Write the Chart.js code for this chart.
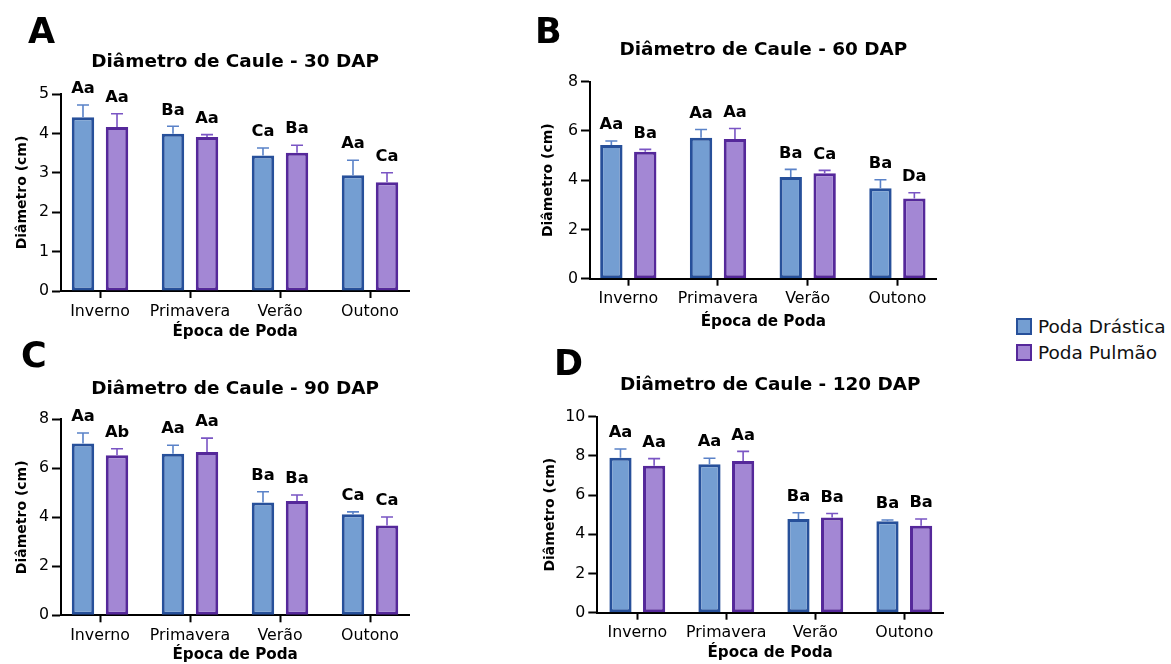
<!DOCTYPE html>
<html><head><meta charset="utf-8">
<script src="https://cdn.jsdelivr.net/npm/chart.js@4.4.1/dist/chart.umd.min.js"></script>
<style>
html,body{margin:0;padding:0;background:#fff;}
body{width:1171px;height:664px;position:relative;overflow:hidden;font-family:"DejaVu Sans",sans-serif;}
.wrap{position:absolute;}
.wrap canvas{display:block;}
.plabel{position:absolute;font-weight:bold;font-size:35px;line-height:34px;color:#000;}
#legend{position:absolute;left:1016px;top:313px;}
.li{display:flex;align-items:center;height:26px;font-size:18.5px;color:#111;white-space:nowrap;}
.sw{width:12px;height:13px;border:2px solid;margin-right:6px;box-sizing:content-box;}
</style></head><body>
<script>
// ---------- DATA ----------
const categories = ['Inverno', 'Primavera', 'Verão', 'Outono'];
const seriesNames = ['Poda Drástica', 'Poda Pulmão'];

// 30 DAP
const drastica30 = [4.41, 3.99, 3.44, 2.94];
const drasticaErr30 = [0.31, 0.19, 0.19, 0.38];
const pulmao30 = [4.16, 3.91, 3.51, 2.76];
const pulmaoErr30 = [0.34, 0.06, 0.19, 0.24];
const drasticaLetters30 = ['Aa', 'Ba', 'Ca', 'Aa'];
const pulmaoLetters30 = ['Aa', 'Aa', 'Ba', 'Ca'];

// 60 DAP
const drastica60 = [5.43, 5.72, 4.13, 3.67];
const drasticaErr60 = [0.16, 0.34, 0.31, 0.35];
const pulmao60 = [5.16, 5.67, 4.28, 3.26];
const pulmaoErr60 = [0.09, 0.43, 0.12, 0.23];
const drasticaLetters60 = ['Aa', 'Aa', 'Ba', 'Ba'];
const pulmaoLetters60 = ['Ba', 'Aa', 'Ca', 'Da'];

// 90 DAP
const drastica90 = [7.01, 6.59, 4.60, 4.12];
const drasticaErr90 = [0.43, 0.35, 0.44, 0.10];
const pulmao90 = [6.53, 6.67, 4.67, 3.67];
const pulmaoErr90 = [0.27, 0.56, 0.24, 0.34];
const drasticaLetters90 = ['Aa', 'Aa', 'Ba', 'Ca'];
const pulmaoLetters90 = ['Ab', 'Aa', 'Ba', 'Ca'];

// 120 DAP
const drastica120 = [7.91, 7.57, 4.78, 4.66];
const drasticaErr120 = [0.44, 0.31, 0.32, 0.07];
const pulmao120 = [7.50, 7.74, 4.86, 4.44];
const pulmaoErr120 = [0.36, 0.49, 0.20, 0.34];
const drasticaLetters120 = ['Aa', 'Aa', 'Ba', 'Ba'];
const pulmaoLetters120 = ['Aa', 'Aa', 'Ba', 'Ba'];

const yMaxA = 5, yStepA = 1;
const yMaxB = 8, yStepB = 2;
const yMaxC = 8, yStepC = 2;
const yMaxD = 10, yStepD = 2;

const panelLetters = ['A', 'B', 'C', 'D'];
const titles = ['Diâmetro de Caule - 30 DAP', 'Diâmetro de Caule - 60 DAP', 'Diâmetro de Caule - 90 DAP', 'Diâmetro de Caule - 120 DAP'];
const yTitle = 'Diâmetro (cm)';
const xTitle = 'Época de Poda';

// ---------- STYLE / LAYOUT ----------
const FONT = '"DejaVu Sans", "Liberation Sans", sans-serif';
const colDr = {fill: '#749ed2', border: '#27509a', err: '#5a82c8'};
const colPu = {fill: '#a387d4', border: '#55289a', err: '#7a55c4'};
const TITLE_SIZE = 18.4, TICK_SIZE = 15.8, YT_SIZE = 14, XT_SIZE = 15.2, LET_SIZE = 16.3;

const layouts = [
  {box:{x:0, y:0, w:425, h:345}, area:{l:61, r:409.3, t:94, b:291}, c0:100, sp:90, titleY:62, yTitleX:22, xTitleY:332, letter:{x:28, y:14}},
  {box:{x:520, y:0, w:430, h:340}, area:{l:590, r:936.7, t:81.7, b:278.7}, c0:628.3, sp:89.7, titleY:50, yTitleX:548, xTitleY:321.7, letter:{x:535, y:14}},
  {box:{x:0, y:345, w:425, h:319}, area:{l:61, r:409.3, t:419.3, b:615.3}, c0:100, sp:90, titleY:389, yTitleX:22.5, xTitleY:655, letter:{x:21, y:338}},
  {box:{x:520, y:345, w:430, h:319}, area:{l:597.3, r:943, t:416.7, b:612.7}, c0:637.3, sp:89, titleY:385, yTitleX:550, xTitleY:653, letter:{x:554, y:346}}
];

const panelData = [
  {dr:drastica30, drE:drasticaErr30, drL:drasticaLetters30, pu:pulmao30, puE:pulmaoErr30, puL:pulmaoLetters30, yMax:yMaxA, yStep:yStepA},
  {dr:drastica60, drE:drasticaErr60, drL:drasticaLetters60, pu:pulmao60, puE:pulmaoErr60, puL:pulmaoLetters60, yMax:yMaxB, yStep:yStepB},
  {dr:drastica90, drE:drasticaErr90, drL:drasticaLetters90, pu:pulmao90, puE:pulmaoErr90, puL:pulmaoLetters90, yMax:yMaxC, yStep:yStepC},
  {dr:drastica120, drE:drasticaErr120, drL:drasticaLetters120, pu:pulmao120, puE:pulmaoErr120, puL:pulmaoLetters120, yMax:yMaxD, yStep:yStepD}
];

const errorBarPlugin = {
  id: 'errbars',
  afterDatasetsDraw(chart) {
    const ctx = chart.ctx, ys = chart.scales.y;
    chart.data.datasets.forEach((ds, di) => {
      const meta = chart.getDatasetMeta(di);
      meta.data.forEach((bar, j) => {
        const v = ds.data[j].y, e = ds.err[j];
        const yTop = ys.getPixelForValue(v + e);
        ctx.save();
        ctx.strokeStyle = ds.errColor;
        ctx.lineWidth = 1.6;
        ctx.beginPath();
        ctx.moveTo(bar.x, bar.y);
        ctx.lineTo(bar.x, yTop);
        ctx.moveTo(bar.x - 6, yTop);
        ctx.lineTo(bar.x + 6, yTop);
        ctx.stroke();
        ctx.fillStyle = '#000';
        ctx.font = 'bold ' + LET_SIZE + 'px ' + FONT;
        ctx.textAlign = 'center';
        ctx.textBaseline = 'middle';
        ctx.fillText(ds.letters[j], bar.x, yTop - 16);
        ctx.restore();
      });
    });
  }
};

function build(k) {
  const L = layouts[k], D = panelData[k];
  const wrap = document.createElement('div');
  wrap.className = 'wrap';
  wrap.style.left = L.box.x + 'px'; wrap.style.top = L.box.y + 'px';
  wrap.style.width = L.box.w + 'px'; wrap.style.height = L.box.h + 'px';
  const cv = document.createElement('canvas');
  cv.width = L.box.w; cv.height = L.box.h;
  cv.style.width = L.box.w + 'px'; cv.style.height = L.box.h + 'px';
  wrap.appendChild(cv);
  document.body.appendChild(wrap);

  const lbl = document.createElement('div');
  lbl.className = 'plabel';
  lbl.textContent = panelLetters[k];
  lbl.style.left = L.letter.x + 'px'; lbl.style.top = L.letter.y + 'px';
  document.body.appendChild(lbl);

  const relL = L.area.l - L.box.x, relR = L.area.r - L.box.x;
  const relT = L.area.t - L.box.y, relB = L.area.b - L.box.y;
  const tLH = TITLE_SIZE * 1.2;
  const tPadTop = (L.titleY - L.box.y) - tLH / 2;
  const tPadBot = relT - (L.titleY - L.box.y) - tLH / 2;
  const yLH = YT_SIZE * 1.2;
  const yTitlePad = (L.yTitleX - L.box.x) - yLH / 2;
  const xLH = XT_SIZE * 1.2;
  const xTitlePad = Math.max(0, (L.box.y + L.box.h) - L.xTitleY - xLH / 2);
  const xMin = -(L.c0 - L.area.l) / L.sp;
  const xMax = (L.area.r - L.c0) / L.sp;

  new Chart(cv, {
    type: 'bar',
    data: {
      datasets: [
        {label: seriesNames[0], data: D.dr.map((v, i) => ({x: i, y: v})), err: D.drE, letters: D.drL, errColor: colDr.err,
         backgroundColor: colDr.fill, borderColor: colDr.border, borderWidth: 3, borderSkipped: false,
         categoryPercentage: 0.756, barPercentage: 0.66},
        {label: seriesNames[1], data: D.pu.map((v, i) => ({x: i, y: v})), err: D.puE, letters: D.puL, errColor: colPu.err,
         backgroundColor: colPu.fill, borderColor: colPu.border, borderWidth: 3, borderSkipped: false,
         categoryPercentage: 0.756, barPercentage: 0.66}
      ]
    },
    options: {
      responsive: false, animation: false, devicePixelRatio: 1,
      layout: {padding: {left: 0, top: 0, bottom: 0, right: L.box.w - relR}},
      plugins: {
        legend: {display: false}, tooltip: {enabled: false},
        title: {display: true, text: titles[k], fullSize: false, color: '#000',
                font: {family: FONT, size: TITLE_SIZE, weight: 'bold', lineHeight: 1.2},
                padding: {top: tPadTop, bottom: tPadBot}}
      },
      scales: {
        x: {
          type: 'linear', min: xMin, max: xMax, offset: false,
          afterBuildTicks: (s) => { s.ticks = categories.map((c, i) => ({value: i})); },
          afterFit: (s) => { s.height = L.box.h - relB; },
          ticks: {callback: (v) => categories[v], color: '#000', font: {family: FONT, size: TICK_SIZE}, padding: 4, maxRotation: 0, autoSkip: false},
          grid: {display: true, offset: false, drawOnChartArea: false, drawTicks: true, tickLength: 7, tickWidth: 2, tickColor: '#000'},
          border: {display: true, color: '#000', width: 2},
          title: {display: true, text: xTitle, color: '#000', font: {family: FONT, size: XT_SIZE, weight: 'bold', lineHeight: 1.2}, padding: {top: 0, bottom: xTitlePad}}
        },
        y: {
          min: 0, max: D.yMax,
          afterFit: (s) => { s.width = relL; },
          ticks: {stepSize: D.yStep, color: '#000', font: {family: FONT, size: TICK_SIZE}, padding: 3},
          grid: {display: true, drawOnChartArea: false, drawTicks: true, tickLength: 9, tickWidth: 2, tickColor: '#000'},
          border: {display: true, color: '#000', width: 2},
          title: {display: true, text: yTitle, color: '#000', font: {family: FONT, size: YT_SIZE, weight: 'bold', lineHeight: 1.2}, padding: {top: yTitlePad, bottom: 0}}
        }
      }
    },
    plugins: [errorBarPlugin]
  });
}

for (let k = 0; k < 4; k++) build(k);

// legend
const leg = document.createElement('div');
leg.id = 'legend';
[colDr, colPu].forEach((c, i) => {
  const row = document.createElement('div');
  row.className = 'li';
  const sw = document.createElement('span');
  sw.className = 'sw';
  sw.style.background = c.fill; sw.style.borderColor = c.border;
  row.appendChild(sw);
  const t = document.createElement('span');
  t.textContent = seriesNames[i];
  row.appendChild(t);
  leg.appendChild(row);
});
document.body.appendChild(leg);
</script>
</body></html>
